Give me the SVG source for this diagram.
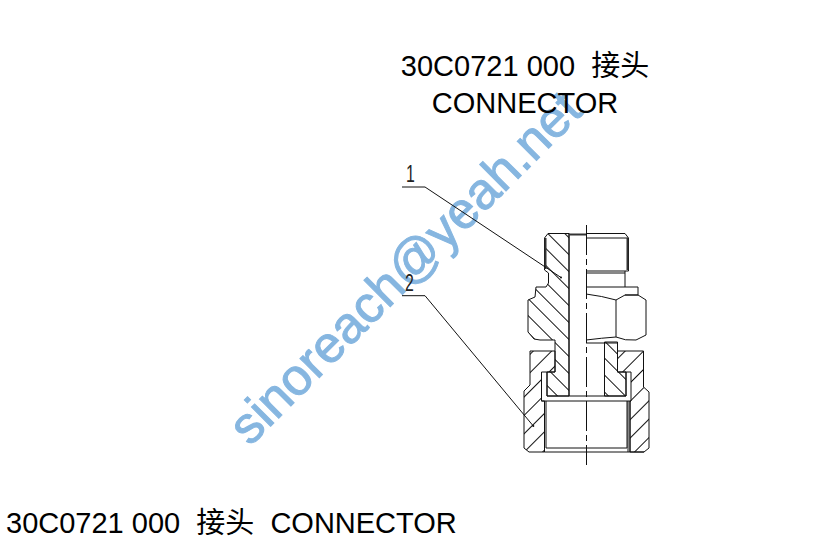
<svg xmlns="http://www.w3.org/2000/svg" width="826" height="539" viewBox="0 0 826 539">
<style>
.t{font-family:"Liberation Sans","Noto Sans CJK SC",sans-serif;font-size:29px;fill:#000}
.c{font-family:"Liberation Sans","Noto Sans CJK SC",sans-serif;font-size:29px;fill:#000;text-anchor:middle}
.n{font-family:"Liberation Sans",sans-serif;font-size:24px;fill:#222}
.l{fill:none;stroke:#111;stroke-width:1;stroke-linejoin:round}
.th{fill:none;stroke:#333;stroke-width:2}
.d{fill:#111}
</style>
<defs>
<pattern id="h1" patternUnits="userSpaceOnUse" width="12" height="12" patternTransform="translate(548 233) rotate(45)"><line x1="0" y1="0.5" x2="12" y2="0.5" stroke="#111" stroke-width="1"/></pattern>
<pattern id="h2" patternUnits="userSpaceOnUse" width="13" height="13" patternTransform="translate(530 372) rotate(-45)"><line x1="0" y1="0.5" x2="13" y2="0.5" stroke="#111" stroke-width="1"/></pattern>
</defs>
<rect width="826" height="539" fill="#fff"/>
<text id="watermark" transform="translate(250 447) rotate(-45)" font-family="'Liberation Sans',sans-serif" font-size="51.500" fill="#86b6e0" stroke="#86b6e0" stroke-width="1">sinoreach@yeah.net</text>
<g id="title">
<text class="c" x="525" y="75.500" xml:space="preserve">30C0721 000  接头</text>
<text class="c" x="525" y="112.500">CONNECTOR</text>
</g>
<g id="drawing">
<path id="body-section" class="l" style="fill:url(#h1)" d="M569 233.500H548L544.500 238V270L548.500 273V283L546 287H536L535 297L528 300V332L534 339L540 340H555V372H547V396H569Z"/>
<path id="body-section-right" class="l" style="fill:url(#h1)" d="M604.500 342H617.500V372H626V396H604.500Z"/>
<path id="nut-left" class="l" style="fill:url(#h2)" d="M530 351H555V372H541.500V401H544.500V452H529L524 448V391L530 385Z"/>
<path id="nut-right" class="l" style="fill:url(#h2)" d="M617.500 351H643.500V387L649 392V448L644 452H630V401H631V372H617.500Z"/>
<path class="l" d="M569 233.500V396M586 233.500H625L628.500 238V271H586M586 238H628M625 271V287M586 273H625M586 287H638V295H625M586 294Q602 296 616 300L625 295M625 295H638L646 300V335L636 340Q625 341 616 337Q602 338 586 340M616 300V337M586 343H617M541.500 401H631M547 396H626V372M541.500 372V401M547 372V396M544.500 401V452H644M546 401V448H627V401M628 401V452M630 401V452"/>
<path class="th" d="M545.500 238V269M627.500 238V270M569 234.500H586"/>
<line class="l" x1="586.500" y1="225" x2="586.500" y2="465" stroke-dasharray="30 4 6 4"/>
</g>
<g id="connectors">
<path class="l" d="M402 187H425L561 277.500"/>
<path class="l" d="M402 295.700H425L533.300 426"/>
<circle class="d" cx="561" cy="277.500" r="1"/>
<circle class="d" cx="533.300" cy="426" r="1"/>
</g>
<g id="label-1"><text class="n" transform="translate(406 182) scale(.66 1)">1</text></g>
<g id="label-2"><text class="n" transform="translate(405 291) scale(.66 1)">2</text></g>
<g id="caption"><text class="t" x="6" y="532.500" xml:space="preserve">30C0721 000  接头  CONNECTOR</text></g>
</svg>
